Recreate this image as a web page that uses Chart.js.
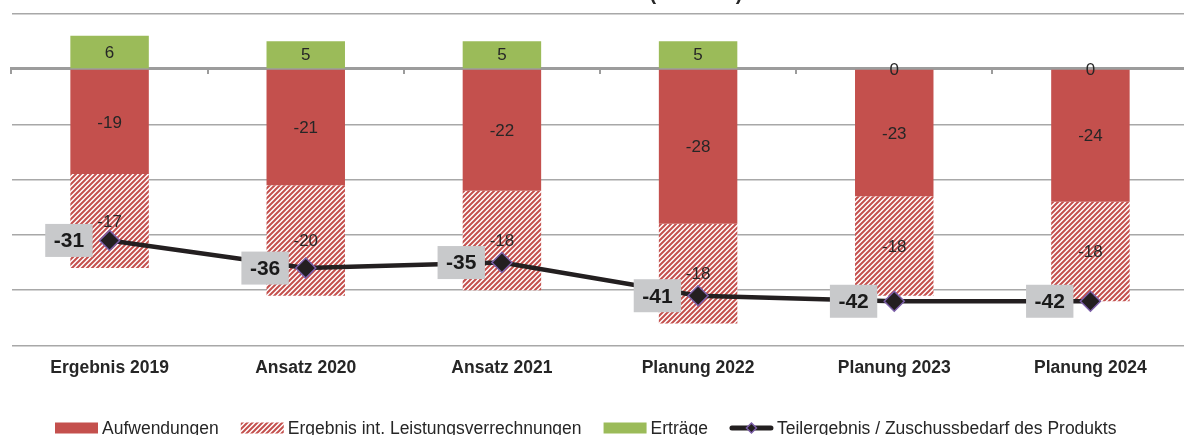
<!DOCTYPE html>
<html lang="de">
<head>
<meta charset="utf-8">
<title>Teilergebnis</title>
<script src="https://cdn.jsdelivr.net/npm/chart.js@4"></script>
<style>
  html, body { margin: 0; padding: 0; background: #fff; overflow: hidden; }
  #wrap { position: relative; width: 1200px; height: 435px; }
</style>
</head>
<body>
<div id="wrap"><canvas id="chart"></canvas></div>
<script>
const categories = ['Ergebnis 2019', 'Ansatz 2020', 'Ansatz 2021', 'Planung 2022', 'Planung 2023', 'Planung 2024'];
const aufwendungen = [-19, -21, -22, -28, -23, -24];
const leistungsverrechnungen = [-17, -20, -18, -18, -18, -18];
const ertraege = [6, 5, 5, 5, 0, 0];
const teilergebnis = [-31, -36, -35, -41, -42, -42];
const yMin = -50;
const yMax = 10;
const yStep = 10;
const chartTitle = '(in Tsd. €)';

const FONT = '"Liberation Sans", Arial, sans-serif';
const RED = '#c4504d';
const GREEN = '#9bbb59';
const GRID = '#a8a8a8';
const AXIS = '#9c9c9c';
const TEXT = '#262626';

Chart.defaults.font.family = FONT;

// white tile with red "/" stripes for the internal allocations
function makeHatch(color, size) {
  const c = document.createElement('canvas');
  c.width = size;
  c.height = size;
  const g = c.getContext('2d');
  g.fillStyle = '#fff';
  g.fillRect(0, 0, size, size);
  g.strokeStyle = color;
  g.lineWidth = 2;
  g.beginPath();
  g.moveTo(-1, size + 1); g.lineTo(size + 1, -1);
  g.moveTo(-1, 1); g.lineTo(1, -1);
  g.moveTo(size - 1, size + 1); g.lineTo(size + 1, size - 1);
  g.stroke();
  return g.createPattern(c, 'repeat');
}
const hatch = makeHatch(RED, 5);

// numbers in the middle of each bar segment; zeros are drawn last so they sit on the axis line
function drawBarLabels(chart, index, zeroOnly) {
  const ds = chart.data.datasets[index];
  const meta = chart.getDatasetMeta(index);
  const yScale = chart.scales.y;
  const ctx = chart.ctx;
  ctx.save();
  ctx.font = '17px ' + FONT;
  ctx.fillStyle = TEXT;
  ctx.textAlign = 'center';
  ctx.textBaseline = 'middle';
  meta.data.forEach((bar, i) => {
    const v = ds.data[i];
    const isZero = v === 0;
    if (isZero !== zeroOnly) return;
    const y = isZero ? yScale.getPixelForValue(0) : (bar.y + bar.base) / 2;
    ctx.fillText(String(v), bar.x, y + 1);
  });
  ctx.restore();
}

const barLabels = {
  id: 'barLabels',
  afterDatasetDraw(chart, args) {
    if (chart.data.datasets[args.index].type === 'line') return;
    drawBarLabels(chart, args.index, false);
  },
  afterDraw(chart) {
    chart.data.datasets.forEach((ds, i) => {
      if (ds.type !== 'line') drawBarLabels(chart, i, true);
    });
  }
};

// grey value boxes to the left of the result points
const pointLabels = {
  id: 'pointLabels',
  afterDraw(chart) {
    const ctx = chart.ctx;
    ctx.save();
    ctx.font = 'bold 21px ' + FONT;
    ctx.textAlign = 'center';
    ctx.textBaseline = 'middle';
    chart.data.datasets.forEach((ds, di) => {
      if (ds.type !== 'line') return;
      chart.getDatasetMeta(di).data.forEach((pt, i) => {
        const text = String(ds.data[i]);
        const w = ctx.measureText(text).width + 17;
        const h = 33;
        const right = pt.x - 17;
        ctx.fillStyle = '#c8c9cb';
        ctx.fillRect(right - w, pt.y - h / 2, w, h);
        ctx.fillStyle = '#1a1a1a';
        ctx.fillText(text, right - w / 2, pt.y + 1);
      });
    });
    ctx.restore();
  }
};

// title and legend row
const frame = {
  id: 'frame',
  afterDraw(chart) {
    const ctx = chart.ctx;
    ctx.save();
    ctx.fillStyle = TEXT;
    ctx.font = 'bold 20px ' + FONT;
    ctx.textAlign = 'center';
    ctx.textBaseline = 'alphabetic';
    ctx.fillText(chartTitle, 696, 0);

    ctx.font = '17.5px ' + FONT;
    ctx.textAlign = 'left';
    ctx.textBaseline = 'middle';
    const y = 428;
    let x = 55;
    chart.data.datasets.forEach(ds => {
      if (ds.type === 'line') {
        ctx.strokeStyle = ds.borderColor;
        ctx.lineWidth = 5;
        ctx.lineCap = 'round';
        ctx.beginPath();
        ctx.moveTo(x + 2, y);
        ctx.lineTo(x + 41, y);
        ctx.stroke();
        ctx.beginPath();
        ctx.moveTo(x + 21.5, y - 5);
        ctx.lineTo(x + 26.5, y);
        ctx.lineTo(x + 21.5, y + 5);
        ctx.lineTo(x + 16.5, y);
        ctx.closePath();
        ctx.fillStyle = ds.pointBackgroundColor;
        ctx.fill();
        ctx.strokeStyle = ds.pointBorderColor;
        ctx.lineWidth = 1.5;
        ctx.stroke();
      } else {
        ctx.fillStyle = ds.backgroundColor;
        ctx.fillRect(x, y - 5.5, 43, 11);
      }
      x += 47;
      ctx.fillStyle = TEXT;
      ctx.fillText(ds.label, x, y + 1);
      x += ctx.measureText(ds.label).width + 22;
    });
    ctx.restore();
  }
};

new Chart(document.getElementById('chart'), {
  data: {
    labels: categories,
    datasets: [
      {
        type: 'bar',
        label: 'Aufwendungen',
        data: aufwendungen,
        backgroundColor: RED,
        stack: 'bars',
        xAxisID: 'x'
      },
      {
        type: 'bar',
        label: 'Ergebnis int. Leistungsverrechnungen',
        data: leistungsverrechnungen,
        backgroundColor: hatch,
        stack: 'bars',
        xAxisID: 'x'
      },
      {
        type: 'bar',
        label: 'Erträge',
        data: ertraege,
        backgroundColor: GREEN,
        stack: 'bars',
        xAxisID: 'x'
      },
      {
        type: 'line',
        label: 'Teilergebnis / Zuschussbedarf des Produkts',
        data: teilergebnis,
        borderColor: '#231f20',
        borderWidth: 4.5,
        tension: 0,
        pointStyle: 'rectRot',
        pointRadius: 10,
        pointBackgroundColor: '#231f20',
        pointBorderColor: '#7b5ea7',
        pointBorderWidth: 1.5,
        stack: 'result',
        order: -1,
        xAxisID: 'x'
      }
    ]
  },
  options: {
    responsive: true,
    maintainAspectRatio: false,
    animation: false,
    datasets: {
      bar: { categoryPercentage: 1, barPercentage: 0.4, borderWidth: 0 }
    },
    layout: { padding: { left: 10, right: 6, top: 13.7, bottom: 43.5 } },
    plugins: {
      legend: { display: false },
      tooltip: { enabled: false },
      title: { display: false }
    },
    scales: {
      x: {
        type: 'category',
        stacked: true,
        offset: true,
        grid: { display: false, drawTicks: false },
        border: { display: false },
        ticks: { color: TEXT, padding: 12.5, font: { size: 17.5, weight: 'bold' } }
      },
      x0: {
        type: 'category',
        axis: 'x',
        position: { y: 0 },
        offset: true,
        z: 1,
        grid: { offset: true, drawOnChartArea: false, drawTicks: true, tickLength: 4, color: AXIS, lineWidth: 2 },
        border: { display: true, color: AXIS, width: 3 },
        ticks: { display: false }
      },
      y: {
        stacked: true,
        min: yMin,
        max: yMax,
        ticks: { display: false, stepSize: yStep },
        grid: { color: GRID, lineWidth: 1.5, drawTicks: false },
        border: { display: false }
      }
    }
  },
  plugins: [barLabels, pointLabels, frame]
});
</script>
</body>
</html>
